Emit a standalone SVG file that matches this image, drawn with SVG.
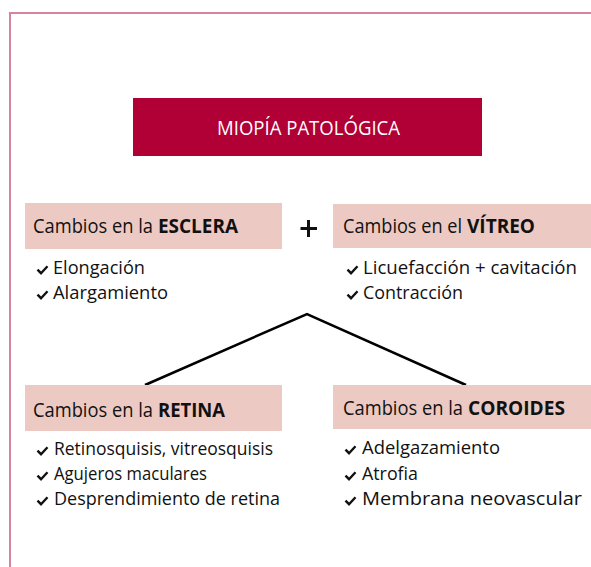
<svg xmlns="http://www.w3.org/2000/svg" xmlns:xlink="http://www.w3.org/1999/xlink" width="591" height="567" viewBox="0 0 591 567">
<style>
.frame{fill:none;stroke:#d9829c;stroke-width:2}
.title{fill:#b00036}
.box{fill:#ecc9c3}
.t{font-family:"Open Sans","Noto Sans","Liberation Sans",sans-serif;fill:#111}
.h{font-size:19.5px}
.b{font-size:18.5px}
.tt{font-family:"Open Sans","Noto Sans","Liberation Sans",sans-serif;font-size:19.5px;fill:#fff}
.bold{font-weight:700}
.conn{fill:none;stroke:#000;stroke-width:2.5;stroke-linejoin:miter}
</style>
<defs>
<path id="chk" d="M0.5,3.6 L4,7.2 L10.5,0.3" fill="none" stroke="#111" stroke-width="2.4"/>
</defs>
<rect width="591" height="567" fill="#fff"/>
<path class="frame" d="M10,567 L10,13 L591,13"/>
<g id="connectors">
<path class="conn" d="M145,385 L307,314 L466,385"/>
<path d="M300.5,228.5 H317 M308.5,220 V237" stroke="#111" stroke-width="3" fill="none"/>
</g>
<g id="title">
<rect class="title" x="133" y="98" width="349" height="58"/>
<text class="tt" x="217" y="135" textLength="183" lengthAdjust="spacingAndGlyphs">MIOPÍA PATOLÓGICA</text>
</g>
<g id="esclera">
<rect class="box" x="25" y="203" width="257" height="46"/>
<text class="t h" x="33" y="233" textLength="120" lengthAdjust="spacingAndGlyphs">Cambios en la</text>
<text class="t h bold" x="158" y="233" textLength="80" lengthAdjust="spacingAndGlyphs">ESCLERA</text>
<use xlink:href="#chk" x="37" y="266"/>
<text class="t b" x="53" y="274" textLength="92" lengthAdjust="spacingAndGlyphs">Elongación</text>
<use xlink:href="#chk" x="37" y="291"/>
<text class="t b" x="53" y="299" textLength="115" lengthAdjust="spacingAndGlyphs">Alargamiento</text>
</g>
<g id="vitreo">
<rect class="box" x="333" y="204" width="258" height="44"/>
<text class="t h" x="343" y="233" textLength="119" lengthAdjust="spacingAndGlyphs">Cambios en el</text>
<text class="t h bold" x="467" y="233" textLength="68" lengthAdjust="spacingAndGlyphs">VÍTREO</text>
<use xlink:href="#chk" x="347" y="266"/>
<text class="t b" x="363" y="274" textLength="214" lengthAdjust="spacingAndGlyphs">Licuefacción + cavitación</text>
<use xlink:href="#chk" x="347" y="291"/>
<text class="t b" x="363" y="299" textLength="100" lengthAdjust="spacingAndGlyphs">Contracción</text>
</g>
<g id="retina">
<rect class="box" x="25" y="385" width="257" height="46"/>
<text class="t h" x="33" y="417" textLength="120" lengthAdjust="spacingAndGlyphs">Cambios en la</text>
<text class="t h bold" x="158" y="417" textLength="67" lengthAdjust="spacingAndGlyphs">RETINA</text>
<use xlink:href="#chk" x="37" y="447"/>
<text class="t b" x="54" y="455" textLength="219" lengthAdjust="spacingAndGlyphs">Retinosquisis, vitreosquisis</text>
<use xlink:href="#chk" x="37" y="472"/>
<text class="t b" x="54" y="480" textLength="153" lengthAdjust="spacingAndGlyphs">Agujeros maculares</text>
<use xlink:href="#chk" x="37" y="497"/>
<text class="t b" x="54" y="505" textLength="226" lengthAdjust="spacingAndGlyphs">Desprendimiento de retina</text>
</g>
<g id="coroides">
<rect class="box" x="333" y="385" width="258" height="44"/>
<text class="t h" x="343" y="415" textLength="120" lengthAdjust="spacingAndGlyphs">Cambios en la</text>
<text class="t h bold" x="468" y="415" textLength="97" lengthAdjust="spacingAndGlyphs">COROIDES</text>
<use xlink:href="#chk" x="345" y="446"/>
<text class="t b" x="362" y="454" textLength="138" lengthAdjust="spacingAndGlyphs">Adelgazamiento</text>
<use xlink:href="#chk" x="345" y="472"/>
<text class="t b" x="362" y="480" textLength="56" lengthAdjust="spacingAndGlyphs">Atrofia</text>
<use xlink:href="#chk" x="345" y="497"/>
<text class="t b" x="362" y="505" textLength="220" lengthAdjust="spacingAndGlyphs">Membrana neovascular</text>
</g>
</svg>
